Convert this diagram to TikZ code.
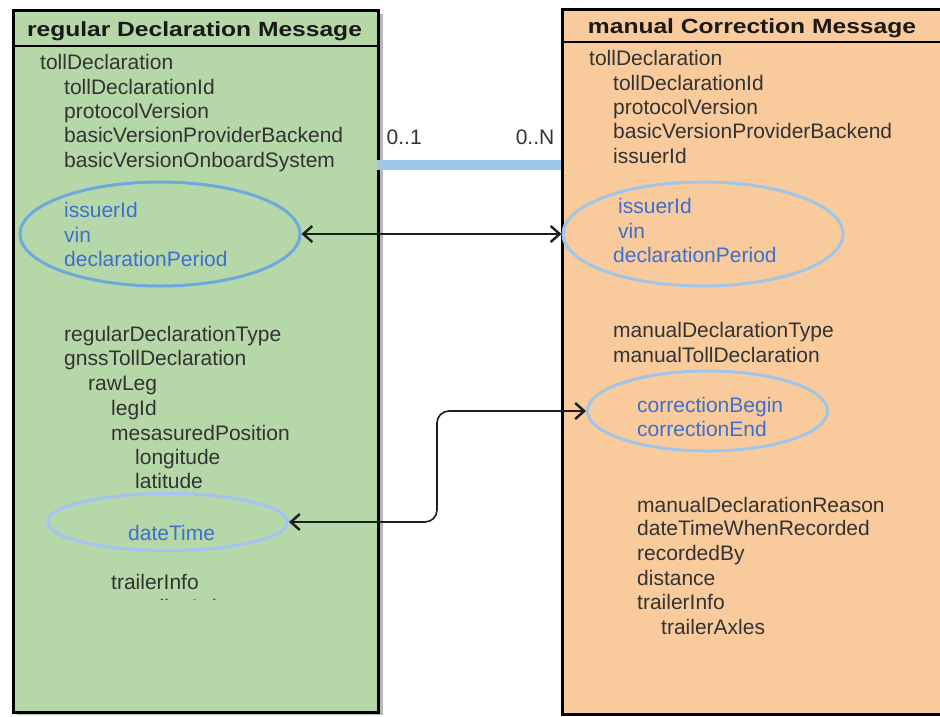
\documentclass[tikz,border=0pt]{standalone}
\usepackage{fontspec}
\setmainfont{Liberation Sans}
\usetikzlibrary{arrows.meta,shapes.geometric}
\definecolor{boxgreen}{HTML}{B6D7A8}
\definecolor{boxorange}{HTML}{F9CB9C}
\definecolor{ellblueA}{HTML}{6FA8DC}
\definecolor{ellblueB}{HTML}{A4C2F4}
\definecolor{ellblueC}{HTML}{9FC5E8}
\definecolor{txtblue}{HTML}{3C6FD0}
\definecolor{txtgray}{HTML}{333333}
\definecolor{arrgray}{HTML}{1E1E1E}
\begin{document}
\begin{tikzpicture}[x=1pt,y=-1pt,
  fld/.style={anchor=base west, inner sep=0pt, font=\fontsize{21}{24}\selectfont, text=txtgray},
  bfld/.style={fld, text=txtblue},
  hdr/.style={anchor=base, inner sep=0pt, text=black!90},
  msgbox/.style={draw=black, line width=3pt, inner sep=0pt, anchor=north west},
  ell/.style={ellipse, line width=3pt, inner sep=0pt},
  rel/.style={draw=arrgray, line width=1.6pt, {Straight Barb[length=9pt,width=16pt,line width=2.4pt]}-{Straight Barb[length=9pt,width=16pt,line width=2.4pt]}},
  mult/.style={inner sep=1.5pt, fill=white, font=\fontsize{21}{24}\selectfont, text=txtgray}
]
\useasboundingbox (0,0) rectangle (940,716);
\clip (0,0) rectangle (940,716);
\fill[white] (0,0) rectangle (940,716);

% shadow of the left box
\fill[black!28] (17,14) rectangle (383,715);

% message boxes
\node[msgbox, fill=boxgreen, minimum width=365pt, minimum height=702pt] (lbox) at (12,9) {};
\node[msgbox, fill=boxorange, minimum width=382pt, minimum height=705pt] (rbox) at (561,8) {};
\draw[line width=2.5pt] (12,46) -- (377,46);
\draw[line width=2.5pt] (561,42) -- (943,42);

% headers
\node[hdr] (lhead) at (194.5,36) {\scalebox{1.2}[1]{\fontsize{20.5}{24}\selectfont\bfseries regular Declaration Message}};
\node[hdr] (rhead) at (752,33) {\scalebox{1.2}[1]{\fontsize{20.5}{24}\selectfont\bfseries manual Correction Message}};

% ellipses
\node[ell, draw=ellblueA, minimum width=280pt, minimum height=104pt] (e1) at (160,234) {};
\node[ell, draw=ellblueC, minimum width=280pt, minimum height=104pt] (e2) at (703,234) {};
\node[ell, draw=ellblueB, minimum width=240pt, minimum height=57pt] (e3) at (167.5,522) {};
\node[ell, draw=ellblueC, minimum width=240pt, minimum height=80pt] (e4) at (707.5,411) {};

% left fields
\node[fld] (l1) at (40,69) {tollDeclaration};
\node[fld] (l2) at (64,94) {tollDeclarationId};
\node[fld] (l3) at (64,118) {protocolVersion};
\node[fld] (l4) at (64,142) {basicVersionProviderBackend};
\node[fld] (l5) at (64,167) {basicVersionOnboardSystem};
\node[bfld] (l6) at (64,217) {issuerId};
\node[bfld] (l7) at (64,242) {vin};
\node[bfld] (l8) at (64,266) {declarationPeriod};
\node[fld] (l9) at (64,341) {regularDeclarationType};
\node[fld] (l10) at (64,365) {gnssTollDeclaration};
\node[fld] (l11) at (88,390) {rawLeg};
\node[fld] (l12) at (111,415) {legId};
\node[fld] (l13) at (111,440) {mesasuredPosition};
\node[fld] (l14) at (135,464) {longitude};
\node[fld] (l15) at (135,488) {latitude};
\node[bfld] (l16) at (128,540) {dateTime};
\node[fld] (l17) at (111,589) {trailerInfo};
\begin{scope}
  \clip (100,597) rectangle (300,599.5);
  \node[fld] (l18) at (135,614) {trailerAxles};
\end{scope}

% right fields
\node[fld] (r1) at (589,65) {tollDeclaration};
\node[fld] (r2) at (613,90) {tollDeclarationId};
\node[fld] (r3) at (613,114) {protocolVersion};
\node[fld] (r4) at (613,138) {basicVersionProviderBackend};
\node[fld] (r5) at (613,163) {issuerId};
\node[bfld] (r6) at (618,213) {issuerId};
\node[bfld] (r7) at (618,238) {vin};
\node[bfld] (r8) at (613,262) {declarationPeriod};
\node[fld] (r9) at (613,337) {manualDeclarationType};
\node[fld] (r10) at (613,362) {manualTollDeclaration};
\node[bfld] (r11) at (637,412) {correctionBegin};
\node[bfld] (r12) at (637,436) {correctionEnd};
\node[fld] (r13) at (637,512) {manualDeclarationReason};
\node[fld] (r14) at (637,535) {dateTimeWhenRecorded};
\node[fld] (r15) at (637,560) {recordedBy};
\node[fld] (r16) at (637,585) {distance};
\node[fld] (r17) at (637,609) {trailerInfo};
\node[fld] (r18) at (661,634) {trailerAxles};

% association 0..1 -- 0..N
\coordinate (aL) at (377,165);
\coordinate (aR) at (561,165);
\draw[ellblueC, line width=10pt] (aL) -- (aR);
\node[mult, anchor=base west] (m1) at (385,144) {0..1};
\node[mult, anchor=base east] (m2) at (556,144) {0..N};

% mapping arrows
\draw[rel] (e1.east) -- (e2.west);
\coordinate (bend) at (437,0);
\draw[rel, rounded corners=12pt] (e3.east) -- (e3.east -| bend) -- (e4.west -| bend) -- (e4.west);
\end{tikzpicture}
\end{document}
